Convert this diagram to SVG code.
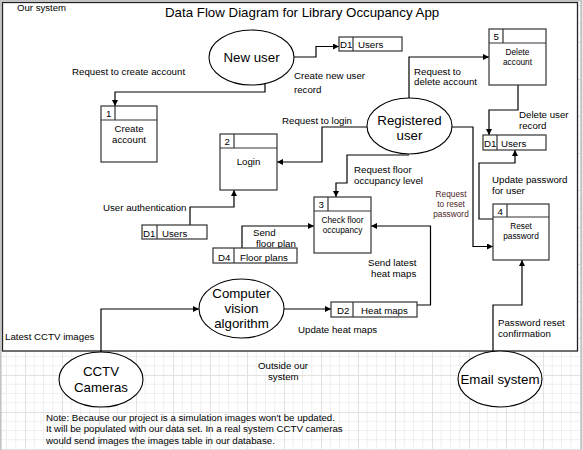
<svg xmlns="http://www.w3.org/2000/svg" width="583" height="450" viewBox="0 0 583 450">
<defs>
<pattern id="grid" x="25" y="5" width="37" height="37" patternUnits="userSpaceOnUse">
<path d="M9.25,0V37M18.5,0V37M27.75,0V37M0,9.25H37M0,18.5H37M0,27.75H37" stroke="#efefef" stroke-width="1" fill="none"/>
<path d="M0.5,0V37M0,0.5H37" stroke="#e2e2e2" stroke-width="1" fill="none"/>
</pattern>
<marker id="arr" markerWidth="7" markerHeight="7" refX="6" refY="3" orient="auto" markerUnits="userSpaceOnUse">
<path d="M0,0 L6,3 L0,6 z" fill="#000"/>
</marker>
<style>
text{font-family:"Liberation Sans",Arial,sans-serif;fill:#000}
.lbl{font-size:9.7px}
.sm{font-size:8.3px}
.big{font-size:13.3px}
.ell{fill:#fff;stroke:#000;stroke-width:1.1}
.box{fill:#fff;stroke:#333;stroke-width:1.2}
.div{stroke:#333;stroke-width:1.2;fill:none}
.con path{fill:none;stroke:#000;stroke-width:1.2;marker-end:url(#arr)}
.con path.na{marker-end:none}
.mid{text-anchor:middle}
</style>
</defs>
<rect x="0" y="0" width="583" height="450" fill="#fff"/>
<rect x="0" y="0" width="583" height="450" fill="url(#grid)"/>
<rect x="581" y="0" width="2" height="450" fill="#e6e6e6"/>
<path d="M0.8,0V450M0,0.8H581.5M581.2,0V450" stroke="#c4c4c4" stroke-width="1.6" fill="none"/>
<rect id="system-boundary" x="2.5" y="2.5" width="575" height="348.5" fill="#fff" stroke="#222" stroke-width="1.3"/>
<text x="17" y="11" style="font-size:9.6px">Our system</text>
<text x="165" y="16.5" class="big">Data Flow Diagram for Library Occupancy App</text>

<g id="connectors" class="con">
<path d="M294,57 H316 V46.5 H339"/>
<path d="M265,83 V92 H115 V106"/>
<path d="M409,98 V57 H489"/>
<path d="M518,85 V110 H489 V135"/>
<path d="M367,127 H322 V162 H277"/>
<path d="M409,155 H347 V183 H336 V197"/>
<path d="M452,127 H473 V246.5 H493"/>
<path d="M493,219 H479 V163 H515 V150"/>
<path d="M493,351 V305 H522 V260"/>
<path d="M190,225 V207 H234 V190"/>
<path d="M242,248 V226 H314"/>
<path d="M417,305 H430.5 V226 H371"/>
<path d="M284,309 H331"/>
<path d="M101,352 V309 H199"/>
</g>

<g id="connector-labels" class="lbl">
<text x="72" y="75">Request to create account</text>
<text x="294" y="79">Create new user</text>
<text x="294" y="93">record</text>
<text x="414" y="74.5">Request to</text>
<text x="414" y="85">delete account</text>
<text x="519" y="118">Delete user</text>
<text x="519" y="129">record</text>
<text x="282" y="123.5">Request to login</text>
<text x="354" y="173">Request floor</text>
<text x="354" y="183.5">occupancy level</text>
<text class="sm mid" x="451" y="197.3" style="fill:#4d1f1f">Request</text>
<text class="sm mid" x="451" y="207.3" style="fill:#4d1f1f">to reset</text>
<text class="sm mid" x="451" y="217" style="fill:#4d1f1f">password</text>
<text x="492" y="183">Update password</text>
<text x="492" y="194">for user</text>
<text x="103" y="211">User authentication</text>
<text x="253" y="235.5">Send</text>
<text x="256" y="246.5">floor plan</text>
<text x="368" y="266">Send latest</text>
<text x="371" y="277">heat maps</text>
<text x="298" y="333">Update heat maps</text>
<text x="5" y="340">Latest CCTV images</text>
<text x="498" y="326">Password reset</text>
<text x="498" y="337">confirmation</text>
</g>

<g id="new-user">
<ellipse class="ell" cx="251.5" cy="57.5" rx="42.5" ry="27.5"/>
<text class="big mid" x="251.5" y="62">New user</text>
</g>
<g id="registered-user">
<ellipse class="ell" cx="409.5" cy="126" rx="42.5" ry="28"/>
<text class="big mid" x="409.5" y="125">Registered</text>
<text class="big mid" x="409.5" y="139.5">user</text>
</g>
<g id="computer-vision">
<ellipse class="ell" cx="241.5" cy="308.5" rx="42.5" ry="29.5"/>
<text class="big mid" x="241.5" y="298">Computer</text>
<text class="big mid" x="241.5" y="313">vision</text>
<text class="big mid" x="241.5" y="328">algorithm</text>
</g>
<g id="cctv-cameras">
<ellipse class="ell" cx="101" cy="379.5" rx="42" ry="27.5"/>
<text class="big mid" x="101" y="376">CCTV</text>
<text class="big mid" x="101" y="392">Cameras</text>
</g>
<g id="email-system">
<ellipse class="ell" cx="500" cy="379" rx="42" ry="28"/>
<text class="big mid" x="500" y="383.5">Email system</text>
</g>

<g id="p1-create-account">
<rect class="box" x="101" y="106" width="56" height="56"/>
<path class="div" d="M101,120H157M115,106V120"/>
<text class="lbl" x="106" y="117">1</text>
<text class="lbl mid" x="129" y="132">Create</text>
<text class="lbl mid" x="129" y="142.7">account</text>
</g>
<g id="p2-login">
<rect class="box" x="220" y="134" width="57" height="56"/>
<path class="div" d="M220,148H277M234,134V148"/>
<text class="lbl" x="224.5" y="145">2</text>
<text class="lbl mid" x="248.5" y="165">Login</text>
</g>
<g id="p3-check-floor">
<rect class="box" x="314" y="197" width="57" height="56"/>
<path class="div" d="M314,211H371M328,197V211"/>
<text class="lbl" x="318.5" y="207.7">3</text>
<text class="sm mid" x="342.5" y="222.5">Check floor</text>
<text class="sm mid" x="342.5" y="232.7">occupancy</text>
</g>
<g id="p4-reset-password">
<rect class="box" x="493" y="204" width="56" height="56"/>
<path class="div" d="M493,217H549M507,204V217"/>
<text class="lbl" x="497.5" y="215">4</text>
<text class="sm mid" x="521" y="229.3">Reset</text>
<text class="sm mid" x="521" y="239.3">password</text>
</g>
<g id="p5-delete-account">
<rect class="box" x="489" y="29" width="57" height="56"/>
<path class="div" d="M489,43H546M503,29V43"/>
<text class="lbl" x="493.5" y="39.5">5</text>
<text class="sm mid" x="517.5" y="55">Delete</text>
<text class="sm mid" x="517.5" y="64.5">account</text>
</g>

<g id="d1-users-top">
<rect class="box" x="339" y="37" width="63" height="14"/>
<path class="div" d="M353,37V51"/>
<text class="lbl" x="340" y="47.8">D1</text>
<text class="lbl" x="358" y="47.8">Users</text>
</g>
<g id="d1-users-right">
<rect class="box" x="483" y="135" width="63" height="15"/>
<path class="div" d="M497,135V150"/>
<text class="lbl" x="484" y="147">D1</text>
<text class="lbl" x="501" y="147">Users</text>
</g>
<g id="d1-users-left">
<rect class="box" x="142" y="225" width="65" height="14"/>
<path class="div" d="M157,225V239"/>
<text class="lbl" x="143" y="236.5">D1</text>
<text class="lbl" x="162" y="236.5">Users</text>
</g>
<g id="d4-floor-plans">
<rect class="box" x="213" y="248" width="84" height="15"/>
<path class="div" d="M234,248V263"/>
<text class="lbl" x="218" y="260.5">D4</text>
<text class="lbl" x="240" y="260.5">Floor plans</text>
</g>
<g id="d2-heat-maps">
<rect class="box" x="331" y="302" width="86" height="15"/>
<path class="div" d="M353,302V317"/>
<text class="lbl" x="337" y="313.5">D2</text>
<text class="lbl" x="361" y="313.5">Heat maps</text>
</g>

<g id="notes" class="lbl">
<text x="258" y="369">Outside our</text>
<text x="268" y="380">system</text>
<text x="46" y="420.7">Note: Because our project is a simulation images won't be updated.</text>
<text x="46" y="432.3">It will be populated with our data set. In a real system CCTV cameras</text>
<text x="46" y="444">would send images the images table in our database.</text>
</g>
</svg>
